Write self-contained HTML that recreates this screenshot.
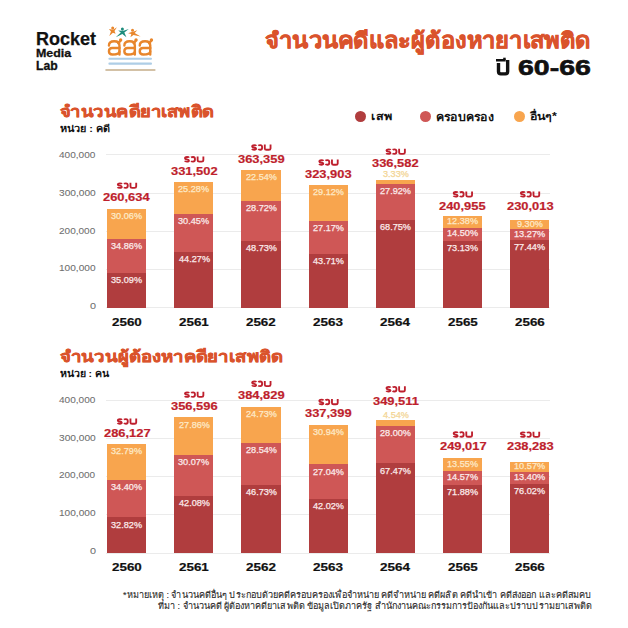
<!DOCTYPE html>
<html><head><meta charset="utf-8"><style>
html,body{margin:0;padding:0;background:#fff}
body{width:628px;height:628px;position:relative;overflow:hidden;font-family:'Liberation Sans',sans-serif}
div{white-space:nowrap;line-height:1.5;transform-origin:0 0}
</style></head><body>
<svg style="position:absolute;left:0;top:0" width="628" height="100" viewBox="0 0 628 100"><path d="M108.90,29.10 L111.86,29.41 L112.90,29.60 L113.54,29.41 L116.90,27.20 L114.50,31.01 L115.60,33.70 L112.89,32.79 L109.30,35.90 L110.96,31.45 Z" fill="#e8862c"/><circle cx="112.7" cy="28.1" r="1.5" fill="#e8862c"/><path d="M118.20,30.40 L121.60,30.71 L122.60,30.60 L123.55,30.67 L128.80,29.10 L124.35,32.61 L126.40,37.20 L122.35,33.98 L115.80,37.30 L120.81,32.43 Z" fill="#1d8c7c"/><circle cx="122.4" cy="29.0" r="1.5" fill="#1d8c7c"/><path d="M132.90,31.80 L133.74,31.61 L137.30,30.20 L134.69,33.02 L140.60,36.40 L133.46,34.91 L130.40,37.30 L131.33,34.08 L128.10,33.20 L131.63,31.93 Z" fill="#e8862c"/><circle cx="132.5" cy="30.3" r="1.5" fill="#e8862c"/><g fill="none" stroke="#e8862c" stroke-width="2.4" stroke-linecap="round" stroke-linejoin="round"><path d="M108.95,45.6 C108.95,42.6 111.45,41.3 114.25,41.3 C117.35,41.3 119.45,42.6 119.45,45.4 L119.45,54.5"/><path d="M119.45,48.0 L112.15,48.0 C110.05,48.0 108.95,49.6 108.95,51.3 C108.95,53.2 110.35,54.5 112.45,54.5 C115.45,54.5 119.45,54.2 119.45,51.5"/><path d="M118.35,43.2 L120.55,40.4"/><circle cx="120.65" cy="39.9" r="1.7" fill="#e8862c" stroke="none"/><path d="M124.35,45.6 C124.35,42.6 126.85,41.3 129.65,41.3 C132.75,41.3 134.85,42.6 134.85,45.4 L134.85,54.5"/><path d="M134.85,48.0 L127.55,48.0 C125.45,48.0 124.35,49.6 124.35,51.3 C124.35,53.2 125.75,54.5 127.85,54.5 C130.85,54.5 134.85,54.2 134.85,51.5"/><path d="M133.75,43.2 L135.95,40.4"/><circle cx="136.05" cy="39.9" r="1.7" fill="#e8862c" stroke="none"/><path d="M139.75,45.6 C139.75,42.6 142.25,41.3 145.05,41.3 C148.15,41.3 150.25,42.6 150.25,45.4 L150.25,54.5"/><path d="M150.25,48.0 L142.95,48.0 C140.85,48.0 139.75,49.6 139.75,51.3 C139.75,53.2 141.15,54.5 143.25,54.5 C146.25,54.5 150.25,54.2 150.25,51.5"/><path d="M149.15,43.2 L151.35,40.4"/><circle cx="151.45" cy="39.9" r="1.7" fill="#e8862c" stroke="none"/></g><path d="M498.5,63.1 V71.6 Q498.5,73.9 500.8,73.9 H505.35 Q507.65,73.9 507.65,71.6 V60.1" fill="none" stroke="#111" stroke-width="3.4"/><rect x="496" y="59" width="9.7" height="2.5" fill="#111"/><rect x="503.2" y="57.7" width="2.5" height="2" fill="#111"/><g fill="#4d93c9" opacity="0.45"><rect x="108.4" y="57.7" width="43.6" height="2.1" rx="1"/><rect x="108.4" y="62.6" width="43.6" height="2.1" rx="1"/></g><g opacity="0.5"><rect x="105.2" y="68.9" width="50.4" height="2.1" rx="1" fill="#a8834d"/></g></svg>
<div style="position:absolute;left:106.00px;top:307.35px;width:444.22px;height:1px;background:#ebebeb"></div><div style="position:absolute;left:106.00px;top:269.08px;width:444.22px;height:1px;background:#ebebeb"></div><div style="position:absolute;left:106.00px;top:230.81px;width:444.22px;height:1px;background:#ebebeb"></div><div style="position:absolute;left:106.00px;top:192.54px;width:444.22px;height:1px;background:#ebebeb"></div><div style="position:absolute;left:106.00px;top:154.27px;width:444.22px;height:1px;background:#ebebeb"></div><div style="position:absolute;left:107.00px;top:208.73px;width:39.2px;height:29.79px;background:#f8a54e"></div><div style="position:absolute;left:107.00px;top:238.52px;width:39.2px;height:34.55px;background:#cf5756"></div><div style="position:absolute;left:107.00px;top:273.07px;width:39.2px;height:34.78px;background:#b03d3e"></div><div style="position:absolute;left:174.17px;top:181.78px;width:39.2px;height:31.87px;background:#f8a54e"></div><div style="position:absolute;left:174.17px;top:213.65px;width:39.2px;height:38.39px;background:#cf5756"></div><div style="position:absolute;left:174.17px;top:252.04px;width:39.2px;height:55.81px;background:#b03d3e"></div><div style="position:absolute;left:241.34px;top:169.66px;width:39.2px;height:31.16px;background:#f8a54e"></div><div style="position:absolute;left:241.34px;top:200.83px;width:39.2px;height:39.69px;background:#cf5756"></div><div style="position:absolute;left:241.34px;top:240.51px;width:39.2px;height:67.34px;background:#b03d3e"></div><div style="position:absolute;left:308.51px;top:184.67px;width:39.2px;height:35.87px;background:#f8a54e"></div><div style="position:absolute;left:308.51px;top:220.54px;width:39.2px;height:33.47px;background:#cf5756"></div><div style="position:absolute;left:308.51px;top:254.01px;width:39.2px;height:53.84px;background:#b03d3e"></div><div style="position:absolute;left:375.68px;top:179.85px;width:39.2px;height:4.26px;background:#f8a54e"></div><div style="position:absolute;left:375.68px;top:184.11px;width:39.2px;height:35.74px;background:#cf5756"></div><div style="position:absolute;left:375.68px;top:219.85px;width:39.2px;height:88.00px;background:#b03d3e"></div><div style="position:absolute;left:442.85px;top:216.21px;width:39.2px;height:11.34px;background:#f8a54e"></div><div style="position:absolute;left:442.85px;top:227.55px;width:39.2px;height:13.29px;background:#cf5756"></div><div style="position:absolute;left:442.85px;top:240.84px;width:39.2px;height:67.01px;background:#b03d3e"></div><div style="position:absolute;left:510.02px;top:220.38px;width:39.2px;height:8.13px;background:#f8a54e"></div><div style="position:absolute;left:510.02px;top:228.50px;width:39.2px;height:11.61px;background:#cf5756"></div><div style="position:absolute;left:510.02px;top:240.11px;width:39.2px;height:67.74px;background:#b03d3e"></div><div style="position:absolute;left:106.00px;top:552.55px;width:444.22px;height:1px;background:#ebebeb"></div><div style="position:absolute;left:106.00px;top:514.35px;width:444.22px;height:1px;background:#ebebeb"></div><div style="position:absolute;left:106.00px;top:476.15px;width:444.22px;height:1px;background:#ebebeb"></div><div style="position:absolute;left:106.00px;top:437.95px;width:444.22px;height:1px;background:#ebebeb"></div><div style="position:absolute;left:106.00px;top:399.75px;width:444.22px;height:1px;background:#ebebeb"></div><div style="position:absolute;left:107.00px;top:444.18px;width:39.2px;height:35.69px;background:#f8a54e"></div><div style="position:absolute;left:107.00px;top:479.87px;width:39.2px;height:37.45px;background:#cf5756"></div><div style="position:absolute;left:107.00px;top:517.32px;width:39.2px;height:35.73px;background:#b03d3e"></div><div style="position:absolute;left:174.17px;top:417.37px;width:39.2px;height:37.79px;background:#f8a54e"></div><div style="position:absolute;left:174.17px;top:455.15px;width:39.2px;height:40.80px;background:#cf5756"></div><div style="position:absolute;left:174.17px;top:495.95px;width:39.2px;height:57.10px;background:#b03d3e"></div><div style="position:absolute;left:241.34px;top:406.62px;width:39.2px;height:36.21px;background:#f8a54e"></div><div style="position:absolute;left:241.34px;top:442.83px;width:39.2px;height:41.79px;background:#cf5756"></div><div style="position:absolute;left:241.34px;top:484.62px;width:39.2px;height:68.43px;background:#b03d3e"></div><div style="position:absolute;left:308.51px;top:424.67px;width:39.2px;height:39.72px;background:#f8a54e"></div><div style="position:absolute;left:308.51px;top:464.39px;width:39.2px;height:34.71px;background:#cf5756"></div><div style="position:absolute;left:308.51px;top:499.10px;width:39.2px;height:53.95px;background:#b03d3e"></div><div style="position:absolute;left:375.68px;top:420.06px;width:39.2px;height:6.02px;background:#f8a54e"></div><div style="position:absolute;left:375.68px;top:426.09px;width:39.2px;height:37.24px;background:#cf5756"></div><div style="position:absolute;left:375.68px;top:463.32px;width:39.2px;height:89.73px;background:#b03d3e"></div><div style="position:absolute;left:442.85px;top:458.30px;width:39.2px;height:12.84px;background:#f8a54e"></div><div style="position:absolute;left:442.85px;top:471.14px;width:39.2px;height:13.81px;background:#cf5756"></div><div style="position:absolute;left:442.85px;top:484.94px;width:39.2px;height:68.11px;background:#b03d3e"></div><div style="position:absolute;left:510.02px;top:462.38px;width:39.2px;height:9.59px;background:#f8a54e"></div><div style="position:absolute;left:510.02px;top:471.98px;width:39.2px;height:12.15px;background:#cf5756"></div><div style="position:absolute;left:510.02px;top:484.13px;width:39.2px;height:68.92px;background:#b03d3e"></div><div style="position:absolute;left:354.90px;top:110.90px;width:11px;height:11px;border-radius:50%;background:#b03d3e"></div><div style="position:absolute;left:419.80px;top:111.00px;width:11px;height:11px;border-radius:50%;background:#cf5756"></div><div style="position:absolute;left:513.60px;top:111.10px;width:11px;height:11px;border-radius:50%;background:#f8a54e"></div>
<svg style="position:absolute;left:0;top:0" width="628" height="628" viewBox="0 0 628 628"><g fill="none" stroke="#be1f2d" stroke-width="1.85"><path transform="translate(116.90,182.40)" d="M5.0,1.6 C4.7,1.0 3.9,0.9 2.9,0.9 C1.6,0.9 0.9,1.4 0.9,2.2 C0.9,3.0 1.8,3.2 2.9,3.3 C4.1,3.45 4.9,3.9 4.9,4.6 C4.9,5.3 4.1,5.5 2.9,5.5 C1.8,5.5 1.0,5.3 0.8,4.7 M7.0,1.4 C7.5,1.0 8.2,0.9 9.0,0.9 C10.3,0.9 10.9,1.9 10.9,3.2 C10.9,4.6 10.2,5.5 9.0,5.5 C8.1,5.5 7.4,5.4 7.0,5.0 M13.55,0.3 V4.2 C13.55,5.1 14.2,5.5 15.2,5.5 H17.6 C18.7,5.5 19.3,5.1 19.3,4.2 V0.3"/><path transform="translate(184.07,156.10)" d="M5.0,1.6 C4.7,1.0 3.9,0.9 2.9,0.9 C1.6,0.9 0.9,1.4 0.9,2.2 C0.9,3.0 1.8,3.2 2.9,3.3 C4.1,3.45 4.9,3.9 4.9,4.6 C4.9,5.3 4.1,5.5 2.9,5.5 C1.8,5.5 1.0,5.3 0.8,4.7 M7.0,1.4 C7.5,1.0 8.2,0.9 9.0,0.9 C10.3,0.9 10.9,1.9 10.9,3.2 C10.9,4.6 10.2,5.5 9.0,5.5 C8.1,5.5 7.4,5.4 7.0,5.0 M13.55,0.3 V4.2 C13.55,5.1 14.2,5.5 15.2,5.5 H17.6 C18.7,5.5 19.3,5.1 19.3,4.2 V0.3"/><path transform="translate(251.24,144.20)" d="M5.0,1.6 C4.7,1.0 3.9,0.9 2.9,0.9 C1.6,0.9 0.9,1.4 0.9,2.2 C0.9,3.0 1.8,3.2 2.9,3.3 C4.1,3.45 4.9,3.9 4.9,4.6 C4.9,5.3 4.1,5.5 2.9,5.5 C1.8,5.5 1.0,5.3 0.8,4.7 M7.0,1.4 C7.5,1.0 8.2,0.9 9.0,0.9 C10.3,0.9 10.9,1.9 10.9,3.2 C10.9,4.6 10.2,5.5 9.0,5.5 C8.1,5.5 7.4,5.4 7.0,5.0 M13.55,0.3 V4.2 C13.55,5.1 14.2,5.5 15.2,5.5 H17.6 C18.7,5.5 19.3,5.1 19.3,4.2 V0.3"/><path transform="translate(318.41,159.20)" d="M5.0,1.6 C4.7,1.0 3.9,0.9 2.9,0.9 C1.6,0.9 0.9,1.4 0.9,2.2 C0.9,3.0 1.8,3.2 2.9,3.3 C4.1,3.45 4.9,3.9 4.9,4.6 C4.9,5.3 4.1,5.5 2.9,5.5 C1.8,5.5 1.0,5.3 0.8,4.7 M7.0,1.4 C7.5,1.0 8.2,0.9 9.0,0.9 C10.3,0.9 10.9,1.9 10.9,3.2 C10.9,4.6 10.2,5.5 9.0,5.5 C8.1,5.5 7.4,5.4 7.0,5.0 M13.55,0.3 V4.2 C13.55,5.1 14.2,5.5 15.2,5.5 H17.6 C18.7,5.5 19.3,5.1 19.3,4.2 V0.3"/><path transform="translate(385.58,148.40)" d="M5.0,1.6 C4.7,1.0 3.9,0.9 2.9,0.9 C1.6,0.9 0.9,1.4 0.9,2.2 C0.9,3.0 1.8,3.2 2.9,3.3 C4.1,3.45 4.9,3.9 4.9,4.6 C4.9,5.3 4.1,5.5 2.9,5.5 C1.8,5.5 1.0,5.3 0.8,4.7 M7.0,1.4 C7.5,1.0 8.2,0.9 9.0,0.9 C10.3,0.9 10.9,1.9 10.9,3.2 C10.9,4.6 10.2,5.5 9.0,5.5 C8.1,5.5 7.4,5.4 7.0,5.0 M13.55,0.3 V4.2 C13.55,5.1 14.2,5.5 15.2,5.5 H17.6 C18.7,5.5 19.3,5.1 19.3,4.2 V0.3"/><path transform="translate(452.75,191.10)" d="M5.0,1.6 C4.7,1.0 3.9,0.9 2.9,0.9 C1.6,0.9 0.9,1.4 0.9,2.2 C0.9,3.0 1.8,3.2 2.9,3.3 C4.1,3.45 4.9,3.9 4.9,4.6 C4.9,5.3 4.1,5.5 2.9,5.5 C1.8,5.5 1.0,5.3 0.8,4.7 M7.0,1.4 C7.5,1.0 8.2,0.9 9.0,0.9 C10.3,0.9 10.9,1.9 10.9,3.2 C10.9,4.6 10.2,5.5 9.0,5.5 C8.1,5.5 7.4,5.4 7.0,5.0 M13.55,0.3 V4.2 C13.55,5.1 14.2,5.5 15.2,5.5 H17.6 C18.7,5.5 19.3,5.1 19.3,4.2 V0.3"/><path transform="translate(519.92,191.10)" d="M5.0,1.6 C4.7,1.0 3.9,0.9 2.9,0.9 C1.6,0.9 0.9,1.4 0.9,2.2 C0.9,3.0 1.8,3.2 2.9,3.3 C4.1,3.45 4.9,3.9 4.9,4.6 C4.9,5.3 4.1,5.5 2.9,5.5 C1.8,5.5 1.0,5.3 0.8,4.7 M7.0,1.4 C7.5,1.0 8.2,0.9 9.0,0.9 C10.3,0.9 10.9,1.9 10.9,3.2 C10.9,4.6 10.2,5.5 9.0,5.5 C8.1,5.5 7.4,5.4 7.0,5.0 M13.55,0.3 V4.2 C13.55,5.1 14.2,5.5 15.2,5.5 H17.6 C18.7,5.5 19.3,5.1 19.3,4.2 V0.3"/><path transform="translate(116.90,418.20)" d="M5.0,1.6 C4.7,1.0 3.9,0.9 2.9,0.9 C1.6,0.9 0.9,1.4 0.9,2.2 C0.9,3.0 1.8,3.2 2.9,3.3 C4.1,3.45 4.9,3.9 4.9,4.6 C4.9,5.3 4.1,5.5 2.9,5.5 C1.8,5.5 1.0,5.3 0.8,4.7 M7.0,1.4 C7.5,1.0 8.2,0.9 9.0,0.9 C10.3,0.9 10.9,1.9 10.9,3.2 C10.9,4.6 10.2,5.5 9.0,5.5 C8.1,5.5 7.4,5.4 7.0,5.0 M13.55,0.3 V4.2 C13.55,5.1 14.2,5.5 15.2,5.5 H17.6 C18.7,5.5 19.3,5.1 19.3,4.2 V0.3"/><path transform="translate(184.07,391.40)" d="M5.0,1.6 C4.7,1.0 3.9,0.9 2.9,0.9 C1.6,0.9 0.9,1.4 0.9,2.2 C0.9,3.0 1.8,3.2 2.9,3.3 C4.1,3.45 4.9,3.9 4.9,4.6 C4.9,5.3 4.1,5.5 2.9,5.5 C1.8,5.5 1.0,5.3 0.8,4.7 M7.0,1.4 C7.5,1.0 8.2,0.9 9.0,0.9 C10.3,0.9 10.9,1.9 10.9,3.2 C10.9,4.6 10.2,5.5 9.0,5.5 C8.1,5.5 7.4,5.4 7.0,5.0 M13.55,0.3 V4.2 C13.55,5.1 14.2,5.5 15.2,5.5 H17.6 C18.7,5.5 19.3,5.1 19.3,4.2 V0.3"/><path transform="translate(251.24,380.60)" d="M5.0,1.6 C4.7,1.0 3.9,0.9 2.9,0.9 C1.6,0.9 0.9,1.4 0.9,2.2 C0.9,3.0 1.8,3.2 2.9,3.3 C4.1,3.45 4.9,3.9 4.9,4.6 C4.9,5.3 4.1,5.5 2.9,5.5 C1.8,5.5 1.0,5.3 0.8,4.7 M7.0,1.4 C7.5,1.0 8.2,0.9 9.0,0.9 C10.3,0.9 10.9,1.9 10.9,3.2 C10.9,4.6 10.2,5.5 9.0,5.5 C8.1,5.5 7.4,5.4 7.0,5.0 M13.55,0.3 V4.2 C13.55,5.1 14.2,5.5 15.2,5.5 H17.6 C18.7,5.5 19.3,5.1 19.3,4.2 V0.3"/><path transform="translate(318.41,398.80)" d="M5.0,1.6 C4.7,1.0 3.9,0.9 2.9,0.9 C1.6,0.9 0.9,1.4 0.9,2.2 C0.9,3.0 1.8,3.2 2.9,3.3 C4.1,3.45 4.9,3.9 4.9,4.6 C4.9,5.3 4.1,5.5 2.9,5.5 C1.8,5.5 1.0,5.3 0.8,4.7 M7.0,1.4 C7.5,1.0 8.2,0.9 9.0,0.9 C10.3,0.9 10.9,1.9 10.9,3.2 C10.9,4.6 10.2,5.5 9.0,5.5 C8.1,5.5 7.4,5.4 7.0,5.0 M13.55,0.3 V4.2 C13.55,5.1 14.2,5.5 15.2,5.5 H17.6 C18.7,5.5 19.3,5.1 19.3,4.2 V0.3"/><path transform="translate(385.58,386.00)" d="M5.0,1.6 C4.7,1.0 3.9,0.9 2.9,0.9 C1.6,0.9 0.9,1.4 0.9,2.2 C0.9,3.0 1.8,3.2 2.9,3.3 C4.1,3.45 4.9,3.9 4.9,4.6 C4.9,5.3 4.1,5.5 2.9,5.5 C1.8,5.5 1.0,5.3 0.8,4.7 M7.0,1.4 C7.5,1.0 8.2,0.9 9.0,0.9 C10.3,0.9 10.9,1.9 10.9,3.2 C10.9,4.6 10.2,5.5 9.0,5.5 C8.1,5.5 7.4,5.4 7.0,5.0 M13.55,0.3 V4.2 C13.55,5.1 14.2,5.5 15.2,5.5 H17.6 C18.7,5.5 19.3,5.1 19.3,4.2 V0.3"/><path transform="translate(452.75,431.30)" d="M5.0,1.6 C4.7,1.0 3.9,0.9 2.9,0.9 C1.6,0.9 0.9,1.4 0.9,2.2 C0.9,3.0 1.8,3.2 2.9,3.3 C4.1,3.45 4.9,3.9 4.9,4.6 C4.9,5.3 4.1,5.5 2.9,5.5 C1.8,5.5 1.0,5.3 0.8,4.7 M7.0,1.4 C7.5,1.0 8.2,0.9 9.0,0.9 C10.3,0.9 10.9,1.9 10.9,3.2 C10.9,4.6 10.2,5.5 9.0,5.5 C8.1,5.5 7.4,5.4 7.0,5.0 M13.55,0.3 V4.2 C13.55,5.1 14.2,5.5 15.2,5.5 H17.6 C18.7,5.5 19.3,5.1 19.3,4.2 V0.3"/><path transform="translate(519.92,431.40)" d="M5.0,1.6 C4.7,1.0 3.9,0.9 2.9,0.9 C1.6,0.9 0.9,1.4 0.9,2.2 C0.9,3.0 1.8,3.2 2.9,3.3 C4.1,3.45 4.9,3.9 4.9,4.6 C4.9,5.3 4.1,5.5 2.9,5.5 C1.8,5.5 1.0,5.3 0.8,4.7 M7.0,1.4 C7.5,1.0 8.2,0.9 9.0,0.9 C10.3,0.9 10.9,1.9 10.9,3.2 C10.9,4.6 10.2,5.5 9.0,5.5 C8.1,5.5 7.4,5.4 7.0,5.0 M13.55,0.3 V4.2 C13.55,5.1 14.2,5.5 15.2,5.5 H17.6 C18.7,5.5 19.3,5.1 19.3,4.2 V0.3"/></g></svg>
<div style="position:absolute;left:36.345px;top:24.885px;font-size:18.293px;font-weight:bold;color:#111;transform:scaleX(0.9842);-webkit-text-stroke-width:0.25px">Rocket</div><div style="position:absolute;left:36.095px;top:45.036px;font-size:11.361px;font-weight:bold;color:#111;transform:scaleX(1.0937);-webkit-text-stroke-width:0.3px">Media</div><div style="position:absolute;left:36.134px;top:56.709px;font-size:12.052px;font-weight:bold;color:#111;transform:scaleX(1.0120);-webkit-text-stroke-width:0.3px">Lab</div><div style="position:absolute;left:264.984px;top:24.644px;font-size:21.683px;font-weight:bold;color:#da532c;transform:scaleX(1.0914);-webkit-text-stroke-width:0.55px">จำนวนคดีและผู้ต้องหายาเสพติด</div><div style="position:absolute;left:518.061px;top:51.499px;font-size:22.254px;font-weight:bold;color:#111;transform:scaleX(1.2792);-webkit-text-stroke-width:0.6px">60-66</div><div style="position:absolute;left:59.703px;top:99.596px;font-size:16.015px;font-weight:bold;color:#da532c;transform:scaleX(1.1474);-webkit-text-stroke-width:0.5px">จำนวนคดียาเสพติด</div><div style="position:absolute;left:59.950px;top:123.398px;font-size:9.131px;font-weight:bold;color:#111;transform:scaleX(1.1930);-webkit-text-stroke-width:0px">หน่วย : คดี</div><div style="position:absolute;left:59.912px;top:344.928px;font-size:15.608px;font-weight:bold;color:#da532c;transform:scaleX(1.1894);-webkit-text-stroke-width:0.5px">จำนวนผู้ต้องหาคดียาเสพติด</div><div style="position:absolute;left:59.977px;top:367.910px;font-size:9.149px;font-weight:bold;color:#111;transform:scaleX(1.1593);-webkit-text-stroke-width:0px">หน่วย : คน</div><div style="position:absolute;left:371.344px;top:108.104px;font-size:10.768px;font-weight:bold;color:#111;transform:scaleX(1.1726);-webkit-text-stroke-width:0px">เสพ</div><div style="position:absolute;left:435.605px;top:108.918px;font-size:11.145px;font-weight:bold;color:#111;transform:scaleX(1.1109);-webkit-text-stroke-width:0px">ครอบครอง</div><div style="position:absolute;left:529.947px;top:108.179px;font-size:10.738px;font-weight:bold;color:#111;transform:scaleX(1.1621);-webkit-text-stroke-width:0px">อื่นๆ*</div><div style="position:absolute;left:123.338px;top:588.645px;font-size:9.018px;font-weight:normal;color:#2a2a2a;transform:scaleX(1.0093);-webkit-text-stroke-width:0.1px">*หมายเหตุ : จำนวนคดีอื่นๆ ประกอบด้วยคดีครอบครองเพื่อจำหน่าย คดีจำหน่าย คดีผลิต คดีนำเข้า คดีส่งออก และคดีสมคบ</div><div style="position:absolute;left:157.519px;top:600.462px;font-size:9.025px;font-weight:normal;color:#2a2a2a;transform:scaleX(1.0039);-webkit-text-stroke-width:0.1px">ที่มา : จำนวนคดี ผู้ต้องหาคดียาเสพติด ข้อมูลเปิดภาครัฐ สำนักงานคณะกรรมการป้องกันและปราบปรามยาเสพติด</div><div style="position:absolute;left:58.904px;top:149.553px;font-size:8.182px;font-weight:normal;color:#6e6e6e;transform:scaleX(1.2317);-webkit-text-stroke-width:0.05px">400,000</div><div style="position:absolute;left:59.330px;top:187.512px;font-size:8.179px;font-weight:normal;color:#6e6e6e;transform:scaleX(1.2469);-webkit-text-stroke-width:0.05px">300,000</div><div style="position:absolute;left:59.182px;top:225.845px;font-size:8.189px;font-weight:normal;color:#6e6e6e;transform:scaleX(1.2256);-webkit-text-stroke-width:0.05px">200,000</div><div style="position:absolute;left:59.251px;top:262.790px;font-size:8.179px;font-weight:normal;color:#6e6e6e;transform:scaleX(1.2384);-webkit-text-stroke-width:0.05px">100,000</div><div style="position:absolute;left:89.747px;top:300.693px;font-size:8.192px;font-weight:normal;color:#6e6e6e;transform:scaleX(1.3269);-webkit-text-stroke-width:0.05px">0</div><div style="position:absolute;left:111.334px;top:209.707px;font-size:8.310px;font-weight:normal;color:#fde9c8;transform:scaleX(1.1019);-webkit-text-stroke-width:0.25px">30.06%</div><div style="position:absolute;left:110.856px;top:240.137px;font-size:8.503px;font-weight:normal;color:#fbeaea;transform:scaleX(1.0763);-webkit-text-stroke-width:0.25px">34.86%</div><div style="position:absolute;left:110.856px;top:274.451px;font-size:8.503px;font-weight:normal;color:#fbeaea;transform:scaleX(1.0763);-webkit-text-stroke-width:0.25px">35.09%</div><div style="position:absolute;left:103.413px;top:189.018px;font-size:10.704px;font-weight:bold;color:#be1f2d;transform:scaleX(1.2056);-webkit-text-stroke-width:0.2px">260,634</div><div style="position:absolute;left:111.501px;top:313.747px;font-size:11.026px;font-weight:bold;color:#111;transform:scaleX(1.2155);-webkit-text-stroke-width:0.2px">2560</div><div style="position:absolute;left:178.458px;top:182.756px;font-size:8.310px;font-weight:normal;color:#fde9c8;transform:scaleX(1.1019);-webkit-text-stroke-width:0.25px">25.28%</div><div style="position:absolute;left:178.420px;top:215.060px;font-size:8.503px;font-weight:normal;color:#fbeaea;transform:scaleX(1.0772);-webkit-text-stroke-width:0.25px">30.45%</div><div style="position:absolute;left:178.595px;top:253.015px;font-size:8.310px;font-weight:normal;color:#fbeaea;transform:scaleX(1.1019);-webkit-text-stroke-width:0.25px">44.27%</div><div style="position:absolute;left:170.905px;top:162.718px;font-size:10.704px;font-weight:bold;color:#be1f2d;transform:scaleX(1.2056);-webkit-text-stroke-width:0.2px">331,502</div><div style="position:absolute;left:178.884px;top:314.319px;font-size:11.076px;font-weight:bold;color:#111;transform:scaleX(1.2111);-webkit-text-stroke-width:0.2px">2561</div><div style="position:absolute;left:246.086px;top:171.026px;font-size:8.503px;font-weight:normal;color:#fde9c8;transform:scaleX(1.0731);-webkit-text-stroke-width:0.25px">22.54%</div><div style="position:absolute;left:246.086px;top:201.984px;font-size:8.503px;font-weight:normal;color:#fbeaea;transform:scaleX(1.0731);-webkit-text-stroke-width:0.25px">28.72%</div><div style="position:absolute;left:246.179px;top:241.851px;font-size:8.503px;font-weight:normal;color:#fbeaea;transform:scaleX(1.0741);-webkit-text-stroke-width:0.25px">48.73%</div><div style="position:absolute;left:238.011px;top:150.818px;font-size:10.704px;font-weight:bold;color:#be1f2d;transform:scaleX(1.2056);-webkit-text-stroke-width:0.2px">363,359</div><div style="position:absolute;left:246.012px;top:314.041px;font-size:11.026px;font-weight:bold;color:#111;transform:scaleX(1.2138);-webkit-text-stroke-width:0.2px">2562</div><div style="position:absolute;left:313.217px;top:186.145px;font-size:8.503px;font-weight:normal;color:#fde9c8;transform:scaleX(1.0721);-webkit-text-stroke-width:0.25px">29.12%</div><div style="position:absolute;left:313.217px;top:221.504px;font-size:8.503px;font-weight:normal;color:#fbeaea;transform:scaleX(1.0721);-webkit-text-stroke-width:0.25px">27.17%</div><div style="position:absolute;left:313.372px;top:255.315px;font-size:8.503px;font-weight:normal;color:#fbeaea;transform:scaleX(1.0741);-webkit-text-stroke-width:0.25px">43.71%</div><div style="position:absolute;left:305.181px;top:165.818px;font-size:10.704px;font-weight:bold;color:#be1f2d;transform:scaleX(1.2056);-webkit-text-stroke-width:0.2px">323,903</div><div style="position:absolute;left:313.052px;top:314.188px;font-size:11.026px;font-weight:bold;color:#111;transform:scaleX(1.2227);-webkit-text-stroke-width:0.2px">2563</div><div style="position:absolute;left:382.578px;top:168.076px;font-size:8.310px;font-weight:normal;color:#f3d594;transform:scaleX(1.1019);-webkit-text-stroke-width:0.25px">3.33%</div><div style="position:absolute;left:380.147px;top:185.040px;font-size:8.503px;font-weight:normal;color:#fbeaea;transform:scaleX(1.0752);-webkit-text-stroke-width:0.25px">27.92%</div><div style="position:absolute;left:379.985px;top:220.904px;font-size:8.499px;font-weight:normal;color:#fbeaea;transform:scaleX(1.0765);-webkit-text-stroke-width:0.25px">68.75%</div><div style="position:absolute;left:372.415px;top:155.018px;font-size:10.704px;font-weight:bold;color:#be1f2d;transform:scaleX(1.2056);-webkit-text-stroke-width:0.2px">336,582</div><div style="position:absolute;left:380.289px;top:314.041px;font-size:11.026px;font-weight:bold;color:#111;transform:scaleX(1.2195);-webkit-text-stroke-width:0.2px">2564</div><div style="position:absolute;left:447.001px;top:214.884px;font-size:8.310px;font-weight:normal;color:#fde9c8;transform:scaleX(1.1019);-webkit-text-stroke-width:0.25px">12.38%</div><div style="position:absolute;left:447.001px;top:227.195px;font-size:8.310px;font-weight:normal;color:#fbeaea;transform:scaleX(1.1019);-webkit-text-stroke-width:0.25px">14.50%</div><div style="position:absolute;left:447.138px;top:241.813px;font-size:8.310px;font-weight:normal;color:#fbeaea;transform:scaleX(1.1019);-webkit-text-stroke-width:0.25px">73.13%</div><div style="position:absolute;left:439.392px;top:197.718px;font-size:10.704px;font-weight:bold;color:#be1f2d;transform:scaleX(1.2056);-webkit-text-stroke-width:0.2px">240,955</div><div style="position:absolute;left:447.785px;top:313.747px;font-size:11.026px;font-weight:bold;color:#111;transform:scaleX(1.2142);-webkit-text-stroke-width:0.2px">2565</div><div style="position:absolute;left:516.771px;top:218.102px;font-size:8.397px;font-weight:normal;color:#fde9c8;transform:scaleX(1.0881);-webkit-text-stroke-width:0.25px">9.30%</div><div style="position:absolute;left:514.453px;top:227.908px;font-size:8.503px;font-weight:normal;color:#fbeaea;transform:scaleX(1.0833);-webkit-text-stroke-width:0.25px">13.27%</div><div style="position:absolute;left:514.308px;top:241.086px;font-size:8.310px;font-weight:normal;color:#fbeaea;transform:scaleX(1.1019);-webkit-text-stroke-width:0.25px">77.44%</div><div style="position:absolute;left:506.626px;top:197.718px;font-size:10.704px;font-weight:bold;color:#be1f2d;transform:scaleX(1.2056);-webkit-text-stroke-width:0.2px">230,013</div><div style="position:absolute;left:514.581px;top:314.188px;font-size:11.026px;font-weight:bold;color:#111;transform:scaleX(1.2141);-webkit-text-stroke-width:0.2px">2566</div><div style="position:absolute;left:58.904px;top:394.553px;font-size:8.182px;font-weight:normal;color:#6e6e6e;transform:scaleX(1.2317);-webkit-text-stroke-width:0.05px">400,000</div><div style="position:absolute;left:59.359px;top:433.070px;font-size:8.179px;font-weight:normal;color:#6e6e6e;transform:scaleX(1.2470);-webkit-text-stroke-width:0.05px">300,000</div><div style="position:absolute;left:59.122px;top:469.614px;font-size:8.189px;font-weight:normal;color:#6e6e6e;transform:scaleX(1.2215);-webkit-text-stroke-width:0.05px">200,000</div><div style="position:absolute;left:59.251px;top:508.442px;font-size:8.179px;font-weight:normal;color:#6e6e6e;transform:scaleX(1.2384);-webkit-text-stroke-width:0.05px">100,000</div><div style="position:absolute;left:89.721px;top:545.932px;font-size:8.192px;font-weight:normal;color:#6e6e6e;transform:scaleX(1.3257);-webkit-text-stroke-width:0.05px">0</div><div style="position:absolute;left:110.856px;top:445.100px;font-size:8.503px;font-weight:normal;color:#fde9c8;transform:scaleX(1.0763);-webkit-text-stroke-width:0.25px">32.79%</div><div style="position:absolute;left:110.856px;top:481.230px;font-size:8.503px;font-weight:normal;color:#fbeaea;transform:scaleX(1.0763);-webkit-text-stroke-width:0.25px">34.40%</div><div style="position:absolute;left:110.856px;top:518.944px;font-size:8.503px;font-weight:normal;color:#fbeaea;transform:scaleX(1.0763);-webkit-text-stroke-width:0.25px">32.82%</div><div style="position:absolute;left:103.671px;top:424.818px;font-size:10.704px;font-weight:bold;color:#be1f2d;transform:scaleX(1.2056);-webkit-text-stroke-width:0.2px">286,127</div><div style="position:absolute;left:111.501px;top:559.355px;font-size:11.026px;font-weight:bold;color:#111;transform:scaleX(1.2155);-webkit-text-stroke-width:0.2px">2560</div><div style="position:absolute;left:178.518px;top:418.635px;font-size:8.503px;font-weight:normal;color:#fde9c8;transform:scaleX(1.0721);-webkit-text-stroke-width:0.25px">27.86%</div><div style="position:absolute;left:177.962px;top:456.202px;font-size:8.503px;font-weight:normal;color:#fbeaea;transform:scaleX(1.0779);-webkit-text-stroke-width:0.25px">30.07%</div><div style="position:absolute;left:178.993px;top:496.935px;font-size:8.503px;font-weight:normal;color:#fbeaea;transform:scaleX(1.0741);-webkit-text-stroke-width:0.25px">42.08%</div><div style="position:absolute;left:170.841px;top:398.018px;font-size:10.704px;font-weight:bold;color:#be1f2d;transform:scaleX(1.2056);-webkit-text-stroke-width:0.2px">356,596</div><div style="position:absolute;left:178.884px;top:558.523px;font-size:11.076px;font-weight:bold;color:#111;transform:scaleX(1.2111);-webkit-text-stroke-width:0.2px">2561</div><div style="position:absolute;left:246.086px;top:407.773px;font-size:8.503px;font-weight:normal;color:#fde9c8;transform:scaleX(1.0731);-webkit-text-stroke-width:0.25px">24.73%</div><div style="position:absolute;left:246.086px;top:444.037px;font-size:8.503px;font-weight:normal;color:#fbeaea;transform:scaleX(1.0731);-webkit-text-stroke-width:0.25px">28.54%</div><div style="position:absolute;left:246.179px;top:485.630px;font-size:8.503px;font-weight:normal;color:#fbeaea;transform:scaleX(1.0741);-webkit-text-stroke-width:0.25px">46.73%</div><div style="position:absolute;left:238.011px;top:387.218px;font-size:10.704px;font-weight:bold;color:#be1f2d;transform:scaleX(1.2056);-webkit-text-stroke-width:0.2px">384,829</div><div style="position:absolute;left:246.235px;top:558.549px;font-size:11.127px;font-weight:bold;color:#111;transform:scaleX(1.2122);-webkit-text-stroke-width:0.2px">2562</div><div style="position:absolute;left:312.658px;top:425.505px;font-size:8.397px;font-weight:normal;color:#fde9c8;transform:scaleX(1.0889);-webkit-text-stroke-width:0.25px">30.94%</div><div style="position:absolute;left:313.217px;top:465.763px;font-size:8.503px;font-weight:normal;color:#fbeaea;transform:scaleX(1.0721);-webkit-text-stroke-width:0.25px">27.04%</div><div style="position:absolute;left:313.372px;top:499.996px;font-size:8.503px;font-weight:normal;color:#fbeaea;transform:scaleX(1.0741);-webkit-text-stroke-width:0.25px">42.02%</div><div style="position:absolute;left:305.181px;top:405.418px;font-size:10.704px;font-weight:bold;color:#be1f2d;transform:scaleX(1.2056);-webkit-text-stroke-width:0.2px">337,399</div><div style="position:absolute;left:313.338px;top:558.549px;font-size:11.127px;font-weight:bold;color:#111;transform:scaleX(1.2122);-webkit-text-stroke-width:0.2px">2563</div><div style="position:absolute;left:382.946px;top:408.863px;font-size:8.503px;font-weight:normal;color:#f3d594;transform:scaleX(1.0775);-webkit-text-stroke-width:0.25px">4.54%</div><div style="position:absolute;left:380.147px;top:426.865px;font-size:8.503px;font-weight:normal;color:#fbeaea;transform:scaleX(1.0752);-webkit-text-stroke-width:0.25px">28.00%</div><div style="position:absolute;left:379.963px;top:464.521px;font-size:8.499px;font-weight:normal;color:#fbeaea;transform:scaleX(1.0752);-webkit-text-stroke-width:0.25px">67.47%</div><div style="position:absolute;left:372.674px;top:392.618px;font-size:10.704px;font-weight:bold;color:#be1f2d;transform:scaleX(1.2056);-webkit-text-stroke-width:0.2px">349,511</div><div style="position:absolute;left:380.306px;top:558.549px;font-size:11.127px;font-weight:bold;color:#111;transform:scaleX(1.2122);-webkit-text-stroke-width:0.2px">2564</div><div style="position:absolute;left:447.001px;top:457.719px;font-size:8.310px;font-weight:normal;color:#fde9c8;transform:scaleX(1.1019);-webkit-text-stroke-width:0.25px">13.55%</div><div style="position:absolute;left:447.001px;top:471.041px;font-size:8.310px;font-weight:normal;color:#fbeaea;transform:scaleX(1.1019);-webkit-text-stroke-width:0.25px">14.57%</div><div style="position:absolute;left:447.138px;top:485.919px;font-size:8.310px;font-weight:normal;color:#fbeaea;transform:scaleX(1.1019);-webkit-text-stroke-width:0.25px">71.88%</div><div style="position:absolute;left:439.521px;top:437.918px;font-size:10.704px;font-weight:bold;color:#be1f2d;transform:scaleX(1.2056);-webkit-text-stroke-width:0.2px">249,017</div><div style="position:absolute;left:447.785px;top:559.355px;font-size:11.026px;font-weight:bold;color:#111;transform:scaleX(1.2142);-webkit-text-stroke-width:0.2px">2565</div><div style="position:absolute;left:514.453px;top:460.396px;font-size:8.503px;font-weight:normal;color:#fde9c8;transform:scaleX(1.0833);-webkit-text-stroke-width:0.25px">10.57%</div><div style="position:absolute;left:514.453px;top:470.888px;font-size:8.503px;font-weight:normal;color:#fbeaea;transform:scaleX(1.0833);-webkit-text-stroke-width:0.25px">13.40%</div><div style="position:absolute;left:514.308px;top:485.101px;font-size:8.310px;font-weight:normal;color:#fbeaea;transform:scaleX(1.1019);-webkit-text-stroke-width:0.25px">76.02%</div><div style="position:absolute;left:506.626px;top:438.018px;font-size:10.704px;font-weight:bold;color:#be1f2d;transform:scaleX(1.2056);-webkit-text-stroke-width:0.2px">238,283</div><div style="position:absolute;left:515.330px;top:559.402px;font-size:11.026px;font-weight:bold;color:#111;transform:scaleX(1.2141);-webkit-text-stroke-width:0.2px">2566</div>
</body></html>
